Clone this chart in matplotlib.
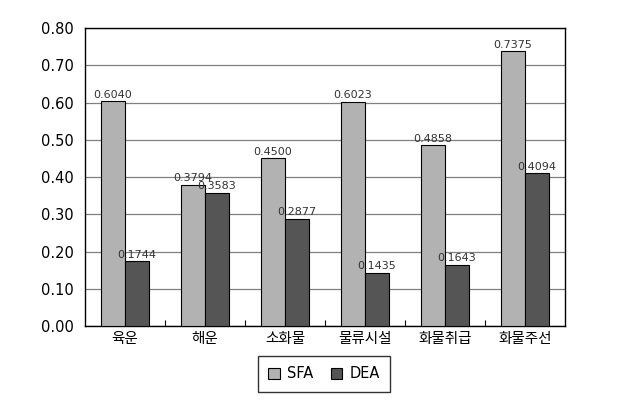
import matplotlib
matplotlib.use("Agg")
import matplotlib.pyplot as plt
import numpy as np

plt.rcParams['font.family'] = ['Noto Sans CJK KR', 'DejaVu Sans']

categories = ['육운', '해운', '소화물', '물류시설', '화물취급', '화물주선']
sfa = [0.6040, 0.3794, 0.4500, 0.6023, 0.4858, 0.7375]
dea = [0.1744, 0.3583, 0.2877, 0.1435, 0.1643, 0.4094]
yticks = [0.0, 0.1, 0.2, 0.3, 0.4, 0.5, 0.6, 0.7, 0.8]

fig = plt.figure(figsize=(6.2, 4.15), dpi=100)
ax = fig.add_axes([85/620, 1-326/415, 480/620, 298/415])

x = np.arange(len(categories))
w = 0.3
b1 = ax.bar(x - w/2, sfa, w, color='#b2b2b2', edgecolor='black', linewidth=0.8, label='SFA', zorder=3)
b2 = ax.bar(x + w/2, dea, w, color='#555555', edgecolor='black', linewidth=0.8, label='DEA', zorder=3)

for rect, v in zip(list(b1) + list(b2), sfa + dea):
    ax.text(rect.get_x() + rect.get_width()/2, v + 0.004, f'{v:.4f}',
            ha='center', va='bottom', fontsize=8, color='#333333',
            family='DejaVu Sans', zorder=4)

ax.set_xlim(-0.5, len(categories) - 0.5)
ax.set_ylim(0, 0.8)
ax.set_yticks(yticks)
ax.set_yticklabels([f'{t:.2f}' for t in yticks], fontsize=10.5, family='DejaVu Sans')
ax.tick_params(axis='y', length=0, pad=8)
ax.yaxis.grid(True, color='#808080', linewidth=0.9, zorder=0)

ax.set_xticks(x)
ax.set_xticklabels(categories, fontsize=10.5)
ax.tick_params(axis='x', which='major', length=0, pad=4)
ax.set_xticks(np.arange(0.5, len(categories) - 1, 1), minor=True)
ax.tick_params(axis='x', which='minor', direction='in', length=4, width=0.8)

for s in ax.spines.values():
    s.set_linewidth(1.0)
    s.set_color('black')

leg = fig.legend(handles=[b1, b2], labels=['SFA', 'DEA'], loc='center',
                 bbox_to_anchor=(324/620, 1-374/415), ncol=2, frameon=True,
                 fancybox=False, edgecolor='black', fontsize=10.5,
                 handlelength=0.8, handleheight=0.8, handletextpad=0.5,
                 columnspacing=1.2, borderpad=0.7)
leg.get_frame().set_linewidth(1.0)
for t in leg.get_texts():
    t.set_family('DejaVu Sans')

fig.savefig('out.png', dpi=100)
